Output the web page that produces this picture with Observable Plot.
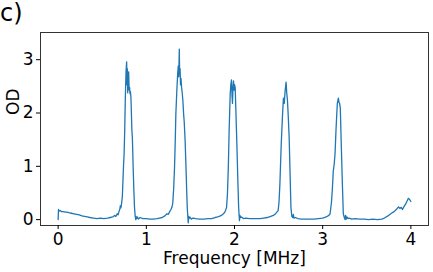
<!DOCTYPE html>
<html><head><meta charset="utf-8">
<script src="https://cdn.jsdelivr.net/npm/d3@7"></script>
<script src="https://cdn.jsdelivr.net/npm/@observablehq/plot@0.6"></script>
<style>
body{margin:0;background:#fff}
#wrap{position:relative;width:433px;height:272px;font-family:"DejaVu Sans",sans-serif}
#lbl{position:absolute;left:0;top:0;font-size:24px;line-height:26px;color:#000}
</style>
</head><body><div id="wrap"><div id="lbl">c)</div></div>
<script>
const panelLabel = "c)";
const xLabel = "Frequency [MHz]";
const yLabel = "OD";
const xTicks = [0, 1, 2, 3, 4];
const yTicks = [0, 1, 2, 3];
const freq = [
0.000,0.004,0.012,0.025,0.04,0.06,0.08,0.10,0.12,0.15,0.18,0.21,0.24,0.27,0.30,0.33,0.36,0.40,0.44,0.48,0.52,0.56,0.59,0.62,0.64,0.655,0.67,0.68,0.69,0.70,
0.705,0.712,0.72,0.728,0.735,0.742,0.748,0.755,0.762,0.77,0.777,0.781,0.785,0.789,0.794,0.80,0.805,0.81,0.815,0.82,0.826,0.831,0.836,0.842,0.85,0.858,0.866,0.874,0.88,0.884,
0.89,0.90,0.91,0.93,0.96,1.00,1.04,1.08,1.12,1.15,1.18,1.21,1.234,1.25,1.265,1.28,1.29,1.30,1.31,1.32,1.328,1.335,1.345,1.355,1.362,1.368,1.374,1.378,1.383,1.388,
1.393,1.40,1.407,1.415,1.423,1.43,1.44,1.45,1.458,1.465,1.47,1.475,1.48,1.486,1.495,1.51,1.53,1.56,1.60,1.65,1.70,1.74,1.78,1.81,1.84,1.86,1.875,1.89,1.90,1.91,
1.92,1.93,1.94,1.951,1.958,1.966,1.972,1.977,1.983,1.989,1.995,2.001,2.008,2.015,2.027,2.038,2.047,2.056,2.062,2.07,2.08,2.10,2.13,2.17,2.21,2.25,2.29,2.33,2.37,2.41,
2.44,2.46,2.48,2.495,2.505,2.515,2.53,2.545,2.555,2.564,2.574,2.585,2.592,2.60,2.61,2.62,2.63,2.64,2.65,2.66,2.667,2.675,2.69,2.72,2.76,2.80,2.85,2.90,2.95,3.00,
3.04,3.07,3.084,3.10,3.11,3.12,3.13,3.14,3.152,3.166,3.172,3.178,3.185,3.192,3.20,3.208,3.216,3.225,3.234,3.245,3.254,3.26,3.268,3.276,3.285,3.30,3.33,3.37,3.42,3.47,
3.52,3.57,3.62,3.67,3.70,3.74,3.78,3.81,3.84,3.86,3.875,3.89,3.905,3.92,3.94,3.96,3.972,3.985,4.0
];
const od = [
0.00,0.19,0.16,0.17,0.15,0.15,0.14,0.14,0.13,0.12,0.11,0.10,0.09,0.07,0.06,0.05,0.04,0.03,0.02,0.03,0.02,0.03,0.04,0.05,0.08,0.06,0.11,0.09,0.15,0.20,
0.26,0.22,0.31,0.43,0.73,1.03,1.23,1.68,2.28,2.78,2.96,2.53,2.83,2.38,2.70,2.77,2.43,2.48,2.36,2.40,2.28,1.98,1.68,1.53,1.03,0.58,0.23,0.06,0.00,0.06,
0.02,0.05,0.01,0.04,0.02,0.02,0.01,0.01,0.02,0.03,0.04,0.07,0.11,0.10,0.15,0.19,0.23,0.31,0.58,0.98,1.47,1.98,2.38,2.72,2.88,2.68,3.20,2.73,2.83,2.53,
2.65,2.48,2.38,2.22,1.98,1.83,1.48,0.98,0.53,0.20,0.08,-0.06,0.06,0.02,0.05,0.01,0.03,0.02,0.01,0.01,0.02,0.02,0.04,0.05,0.07,0.09,0.11,0.14,0.18,0.23,
0.48,0.98,1.72,2.34,2.53,2.62,2.33,2.18,2.48,2.60,2.43,2.53,2.47,2.08,1.41,0.73,0.23,-0.02,0.08,0.04,0.05,0.02,0.03,0.02,0.02,0.02,0.02,0.03,0.04,0.06,
0.08,0.10,0.14,0.17,0.33,0.68,1.42,1.98,2.28,2.18,2.41,2.58,2.38,2.25,1.93,1.53,0.88,0.23,0.06,0.04,0.10,0.03,0.04,0.02,0.01,0.01,0.01,0.01,0.02,0.03,
0.05,0.08,0.11,0.33,0.58,0.91,1.03,1.23,1.72,2.18,2.23,2.28,2.20,2.18,2.09,1.58,1.10,0.58,0.11,0.04,0.00,0.08,0.01,0.05,0.02,0.03,0.01,0.02,0.01,0.01,
0.00,0.01,0.00,0.01,0.03,0.07,0.12,0.15,0.20,0.24,0.21,0.23,0.19,0.24,0.29,0.36,0.40,0.38,0.34
];
const data = freq.map((f, i) => ({f, v: od[i]}));

const chart = Plot.plot({
  width: 433, height: 272,
  marginLeft: 40, marginRight: 5, marginTop: 32, marginBottom: 47,
  style: {fontFamily: "DejaVu Sans", fontSize: "17px", background: "white", color: "#000", overflow: "visible"},
  x: {domain: [-0.2, 4.2]},
  y: {domain: [-0.11, 3.51]},
  marks: [
    Plot.line(data, {x: "f", y: "v", stroke: "#1f77b4", strokeWidth: 1.3}),
    Plot.frame({stroke: "#333", strokeWidth: 1}),
    Plot.axisX({ticks: xTicks, tickSize: 4, tickPadding: 3, fontSize: 17, label: null, tickFormat: d => d}),
    Plot.axisY({ticks: yTicks, tickSize: 4, tickPadding: 3, fontSize: 17, label: null, tickFormat: d => d}),
    Plot.text([xLabel], {frameAnchor: "bottom", lineAnchor: "bottom", dy: 38, fontSize: 17, fill: "#000"}),
    Plot.text([yLabel], {frameAnchor: "left", lineAnchor: "bottom", rotate: -90, dx: -22, dy: -14, fontSize: 17, fill: "#000"})
  ]
});
document.getElementById("wrap").appendChild(chart);
document.getElementById("lbl").textContent = panelLabel;
</script>
</body></html>
